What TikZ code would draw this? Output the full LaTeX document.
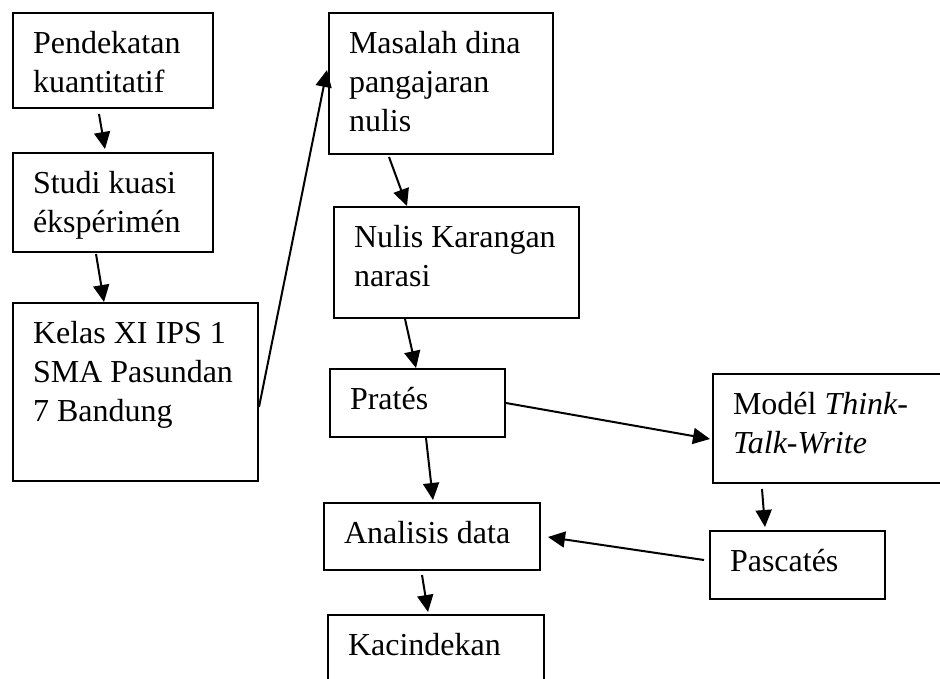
\documentclass[tikz,border=0pt]{standalone}
\usepackage{fontspec}
\setmainfont{Liberation Serif}
\usetikzlibrary{arrows.meta,calc}
\newcommand{\bt}[3]{\begin{minipage}[t][#2pt][t]{#1pt}\raggedright\leftskip=20pt\relax\rule{0pt}{40pt}#3\end{minipage}}
\begin{document}
\begin{tikzpicture}[x=1pt,y=-1pt,
  box/.style={draw, line width=2pt, inner sep=0pt, anchor=north west, font=\fontsize{32}{39}\selectfont},
  arr/.style={line width=2pt, -{Triangle[length=17pt,width=16pt]}}]
\fill[white] (0,0) rectangle (940,678);
\useasboundingbox (0,0) rectangle (940,678);
\clip (0,0) rectangle (940,678);
\node[box] (b1) at (12,12) {\bt{200}{95}{Pendekatan\\kuantitatif}};
\node[box] (b2) at (12,152) {\bt{200}{99}{Studi kuasi\\ékspérimén}};
\node[box] (b3) at (12,302) {\bt{245}{178}{Kelas XI IPS 1\\SMA Pasundan\\7 Bandung}};
\node[box] (b4) at (328,12) {\bt{224}{141}{Masalah dina\\pangajaran\\nulis}};
\node[box] (b5) at (333,206) {\bt{245}{111}{Nulis Karangan\\narasi}};
\node[box] (b6) at (329,368) {\bt{175}{68}{Pratés}};
\node[box] (b7) at (712,373) {\bt{260}{109}{Modél \textit{Think-}\\\textit{Talk-Write}}};
\node[box] (b8) at (323,502) {\bt{216}{67}{Analisis data}};
\node[box] (b9) at (709,530) {\bt{175}{68}{Pascatés}};
\node[box] (b10) at (327,614) {\bt{216}{100}{Kacindekan}};
\draw[arr] ($(b1.south west)+(87,5)$) -- ($(b2.north west)+(93,-3)$);
\draw[arr] ($(b2.south west)+(84,1)$) -- ($(b3.north west)+(92,0)$);
\draw[arr] ($(b3.north east)+(0,105)$) -- ($(b4.north west)+(-1,58)$);
\draw[arr] ($(b4.south west)+(61,2)$) -- ($(b5.north west)+(74,0)$);
\draw[arr] ($(b5.south west)+(72,0)$) -- ($(b6.north west)+(87,0)$);
\draw[arr] ($(b6.north east)+(0,35)$) -- ($(b7.north west)+(-2,66)$);
\draw[arr] ($(b6.south west)+(97,0)$) -- ($(b8.north west)+(110,-2)$);
\draw[arr] ($(b7.south west)+(50,5)$) -- ($(b9.north west)+(56,-3)$);
\draw[arr] ($(b9.north west)+(-5,30)$) -- ($(b8.north east)+(7,35)$);
\draw[arr] ($(b8.south west)+(99,4)$) -- ($(b10.north west)+(101,-2)$);
\end{tikzpicture}
\end{document}
